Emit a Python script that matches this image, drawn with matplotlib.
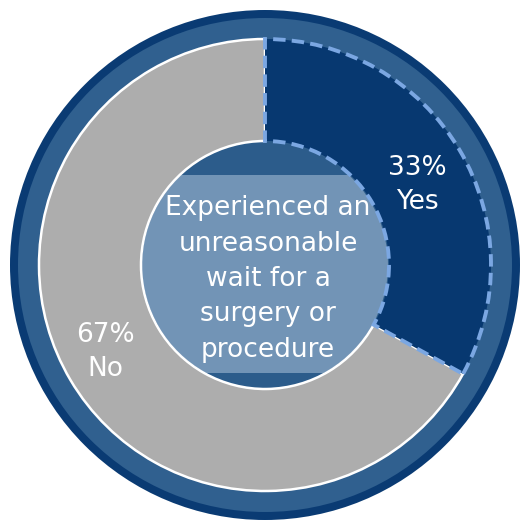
import matplotlib
matplotlib.use("Agg")
import matplotlib.pyplot as plt
from matplotlib.patches import Circle, Rectangle

# Survey answers (share of respondents)
labels = ["Yes", "No"]
shares = [33, 67]
center_text = "Experienced an\nunreasonable\nwait for a\nsurgery or\nprocedure"

W, H = 520, 522
cx, cy = 265, H - 265

fig = plt.figure(figsize=(W / 100, H / 100), dpi=100)
ax = fig.add_axes([0, 0, 1, 1])

# outer ring: dark rim + medium blue band
ax.add_patch(Circle((cx, cy), 255, facecolor="#0a3b73", edgecolor="none", zorder=0))
ax.add_patch(Circle((cx, cy), 247, facecolor="#30608f", edgecolor="none", zorder=0))

r_out, r_in = 226, 124
wedges, _ = ax.pie(shares, center=(cx, cy), radius=r_out, startangle=90,
                   counterclock=False, colors=["#073870", "#adadad"],
                   wedgeprops=dict(width=r_out - r_in, edgecolor="white", linewidth=1.8))
wedges[1].set_zorder(2)
wedges[0].set_zorder(3)
wedges[0].set_edgecolor("#7ba7e2")
wedges[0].set_linewidth(2.8)
wedges[0].set_linestyle((0, (3.2, 1.6)))

# centre disk with lighter band behind the text
disk = Circle((cx, cy), r_in - 1, facecolor="#2c5c8b", edgecolor="none", zorder=1)
ax.add_patch(disk)
band = Rectangle((cx - r_in, H - 373), 2 * r_in, 198, facecolor="#7294b6",
                 edgecolor="none", zorder=1)
ax.add_patch(band)
band.set_clip_path(disk)

ax.text(268, H - 279, center_text, ha="center", va="center", color="white",
        fontsize=19, family="DejaVu Sans", linespacing=1.47, zorder=4)

# slice labels
ax.text(417, H - 185, f"{shares[0]}%\n{labels[0]}", ha="center", va="center",
        color="white", fontsize=19, family="DejaVu Sans", linespacing=1.42, zorder=4)
ax.text(105, H - 352, f"{shares[1]}%\n{labels[1]}", ha="center", va="center",
        color="white", fontsize=19, family="DejaVu Sans", linespacing=1.42, zorder=4)

ax.set_xlim(0, W)
ax.set_ylim(0, H)
ax.set_aspect("equal")
ax.axis("off")

fig.savefig("out.png", dpi=100)
